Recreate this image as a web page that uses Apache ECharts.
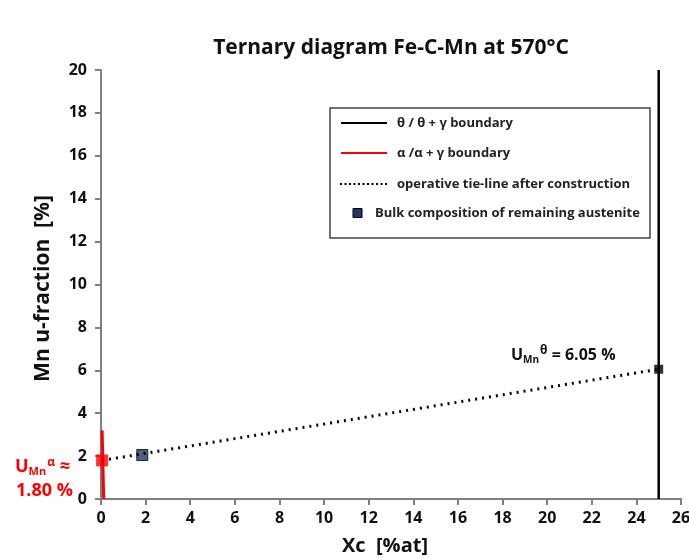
<!DOCTYPE html>
<html>
<head>
<meta charset="utf-8">
<script src="https://cdn.jsdelivr.net/npm/echarts@6/dist/echarts.min.js"></script>
<style>html,body{margin:0;padding:0;background:#fff}#c{width:689px;height:559px}</style>
</head>
<body>
<div id="c"></div>
<script>
// ---- data ----
const xTicks = [0,2,4,6,8,10,12,14,16,18,20,22,24,26];
const yTicks = [0,2,4,6,8,10,12,14,16,18,20];
const thetaBoundary = [[25,0],[25,20]];
const alphaBoundary = [[0.05,3.2],[0.12,0]];
const tieLine = [[0.05,1.8],[25,6.05]];
const bulkComposition = [[1.85,2.05]];
const alphaPoint = [[0.05,1.8]];
const thetaPoint = [[25,6.05]];
const legendLabels = ['θ / θ + γ boundary','α /α + γ boundary','operative tie-line after construction','Bulk composition of remaining austenite'];
const titleText = 'Ternary diagram Fe-C-Mn at 570°C';
const xName = 'Xc  [%at]';
const yName = 'Mn u-fraction  [%]';

const F = '"Open Sans", Lato, sans-serif';
const chart = echarts.init(document.getElementById('c'));

const lg = {x:330, y:108, w:320, h:130};
const rows = [123,153,184,213];
const LF = 'bold 13px '+F;
const legendGraphics = [
  {type:'rect', shape:{x:lg.x, y:lg.y, width:lg.w, height:lg.h}, style:{fill:'#fff', stroke:'#444', lineWidth:1.5}},
  {type:'line', shape:{x1:341,y1:rows[0],x2:387,y2:rows[0]}, style:{stroke:'#000', lineWidth:2}},
  {type:'text', x:397, y:rows[0], style:{text:legendLabels[0], font:LF, fill:'#222', verticalAlign:'middle'}},
  {type:'line', shape:{x1:341,y1:rows[1],x2:387,y2:rows[1]}, style:{stroke:'#ff0000', lineWidth:2}},
  {type:'text', x:397, y:rows[1], style:{text:legendLabels[1], font:LF, fill:'#222', verticalAlign:'middle'}},
  {type:'line', shape:{x1:340,y1:rows[2],x2:387,y2:rows[2]}, style:{stroke:'#000', lineWidth:2, lineDash:[2,2.5]}},
  {type:'text', x:397, y:rows[2], style:{text:legendLabels[2], font:LF, fill:'#222', verticalAlign:'middle'}},
  {type:'rect', shape:{x:353, y:rows[3]-4.5, width:9, height:9}, style:{fill:'#1f3864', stroke:'#000', lineWidth:1}},
  {type:'text', x:375, y:rows[3], style:{text:legendLabels[3], font:LF, fill:'#222', verticalAlign:'middle'}}
];

const annot = [
  {type:'text', x:15, y:467, style:{
    text:'{u|U}{s|Mn}{p|α}{u| ≈}', verticalAlign:'middle',
    rich:{
      u:{font:'bold 18px '+F, fill:'#ff0000', verticalAlign:'middle'},
      s:{font:'bold 11px '+F, fill:'#ff0000', verticalAlign:'bottom', padding:[6,0,0,0]},
      p:{font:'bold 12px '+F, fill:'#ff0000', verticalAlign:'top', padding:[0,0,8,1]}
    }}},
  {type:'text', x:16, y:491, style:{text:'1.80 %', font:'bold 18px '+F, fill:'#ff0000', verticalAlign:'middle'}},
  {type:'text', x:511, y:355, style:{
    text:'{u|U}{s|Mn}{p|θ}{u| = 6.05 %}', verticalAlign:'middle',
    rich:{
      u:{font:'bold 16px '+F, fill:'#111', verticalAlign:'middle'},
      s:{font:'bold 10px '+F, fill:'#111', verticalAlign:'bottom', padding:[6,0,0,0]},
      p:{font:'bold 12px '+F, fill:'#111', verticalAlign:'top', padding:[0,0,8,1]}
    }}}
];

const axisCommon = {
  axisLine:{show:true, onZero:false, lineStyle:{color:'#7f7f7f', width:2}},
  axisTick:{show:true, length:6, lineStyle:{color:'#7f7f7f', width:2}},
  splitLine:{show:false},
  axisLabel:{color:'#111', fontFamily:F, fontWeight:'bold', fontSize:16}
};

chart.setOption({
  animation:false,
  backgroundColor:'#fff',
  title:{text:titleText, left:386, top:33, textAlign:'center',
    textStyle:{fontFamily:F, fontWeight:'bold', fontSize:21, color:'#111'}},
  grid:{left:101, right:8, top:70, bottom:60, containLabel:false, outerBoundsMode:'none'},
  xAxis:Object.assign({}, axisCommon, {type:'value', min:0, max:26, interval:2,
    name:xName, nameLocation:'middle', nameGap:37,
    nameTextStyle:{fontFamily:F, fontWeight:'bold', fontSize:20, color:'#111', padding:[0,12,0,0]},
    axisLabel:Object.assign({}, axisCommon.axisLabel, {margin:11})}),
  yAxis:Object.assign({}, axisCommon, {type:'value', min:0, max:20, interval:2,
    name:yName, nameLocation:'middle', nameGap:47, nameRotate:90,
    nameTextStyle:{fontFamily:F, fontWeight:'bold', fontSize:21, color:'#111', padding:[0,8,0,0]},
    axisLabel:Object.assign({}, axisCommon.axisLabel, {margin:14})}),
  series:[
    {name:legendLabels[0], type:'line', data:thetaBoundary, symbol:'none', lineStyle:{color:'#000', width:2.5}},
    {name:legendLabels[1], type:'line', data:alphaBoundary, symbol:'none', lineStyle:{color:'#ff0000', width:3}},
    {name:legendLabels[2], type:'line', data:tieLine, symbol:'none', lineStyle:{color:'#000', width:3, type:[2,5]}},
    {name:legendLabels[3], type:'scatter', data:bulkComposition, symbol:'rect', symbolSize:11, itemStyle:{color:'#1f3864', borderColor:'#000', borderWidth:1}},
    {type:'scatter', data:alphaPoint, symbol:'rect', symbolSize:12, itemStyle:{color:'#ff0000'}, z:5},
    {type:'scatter', data:thetaPoint, symbol:'rect', symbolSize:9, itemStyle:{color:'#000'}, z:5}
  ],
  graphic:legendGraphics.concat(annot)
});
</script>
</body>
</html>
